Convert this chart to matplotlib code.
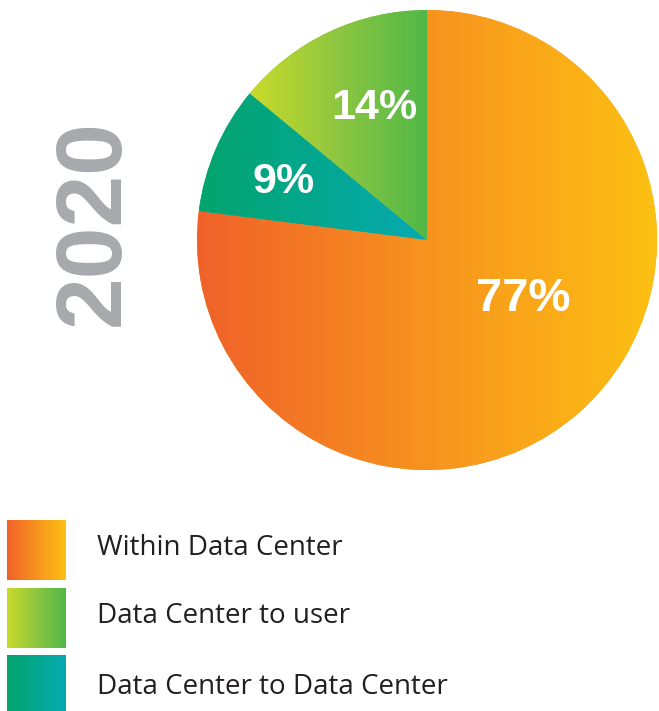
import numpy as np
import matplotlib
matplotlib.use("Agg")
import matplotlib.pyplot as plt
from matplotlib.colors import LinearSegmentedColormap

# ---- data ----
year_label = "2020"
categories = ["Within Data Center", "Data Center to Data Center", "Data Center to user"]
shares = [77, 9, 14]
pct_labels = ["77%", "9%", "14%"]
legend_order = ["Within Data Center", "Data Center to user", "Data Center to Data Center"]

# gradient colours per category (left -> right)
grad_colors = {
    "Within Data Center": ["#F0612A", "#F7931E", "#FDC113"],
    "Data Center to user": ["#C9DA2A", "#8DC641", "#50B848"],
    "Data Center to Data Center": ["#05A46E", "#03A78E", "#08AAB2"],
}

W, H = 659, 711
fig = plt.figure(figsize=(W / 100, H / 100), dpi=100)
ax = fig.add_axes([0, 0, 1, 1])


def Y(v):
    return H - v


grad = np.linspace(0, 1, 256).reshape(1, -1)


def cmap_for(name):
    return LinearSegmentedColormap.from_list(name, grad_colors[name])


# ---- pie ----
cx, cy, R = 427, Y(240), 230
wedges, _ = ax.pie(shares, startangle=90, counterclock=False,
                   center=(cx, cy), radius=R,
                   colors=[grad_colors[c][1] for c in categories],
                   wedgeprops=dict(linewidth=0))
for w, cat in zip(wedges, categories):
    v = w.get_path().vertices
    x0, x1 = v[:, 0].min(), v[:, 0].max()
    y0, y1 = v[:, 1].min(), v[:, 1].max()
    im = ax.imshow(grad, extent=[x0, x1, y0, y1], cmap=cmap_for(cat),
                   aspect="auto", interpolation="bicubic", origin="lower", zorder=2)
    im.set_clip_path(w)

# percent labels
label_pos = {"77%": (523, 299), "9%": (284, 182), "14%": (374, 108)}
label_size = {"77%": 34, "9%": 31, "14%": 31}
for lab in pct_labels:
    x, y = label_pos[lab]
    ax.text(x, Y(y), lab, color="white", fontsize=label_size[lab],
            fontweight="bold", family="Liberation Sans",
            ha="center", va="center", zorder=5)

# year label
ax.text(95, Y(223), year_label, rotation=90, color="#A7A9AC", fontsize=67,
        fontweight="bold", family="Liberation Sans", ha="center", va="center")

# legend
sq_top = [520, 588, 655]
text_base = [555, 623, 694]
for cat, t, b in zip(legend_order, sq_top, text_base):
    ax.imshow(grad, extent=[7, 66, Y(t + 60), Y(t)], cmap=cmap_for(cat),
              aspect="auto", interpolation="bicubic", origin="lower", zorder=2)
    ax.text(97, Y(b), cat, color="#231F20", fontsize=20, family="Open Sans",
            ha="left", va="baseline")

ax.set_xlim(0, W)
ax.set_ylim(0, H)
ax.axis("off")
fig.savefig("out.png", dpi=100)
